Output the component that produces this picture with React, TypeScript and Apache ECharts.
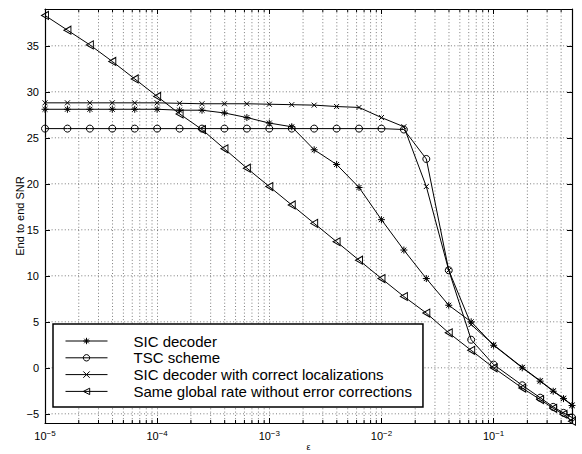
import React, { useEffect, useRef } from 'react';
import * as echarts from 'echarts';

// epsilon values (x)
const eps = [
  1e-5, 1.585e-5, 2.512e-5, 3.981e-5, 6.31e-5,
  1e-4, 1.585e-4, 2.512e-4, 3.981e-4, 6.31e-4,
  1e-3, 1.585e-3, 2.512e-3, 3.981e-3, 6.31e-3,
  1e-2, 1.585e-2, 2.512e-2, 3.981e-2, 6.31e-2,
  0.1, 0.18, 0.26, 0.34, 0.42, 0.5,
];

const sicDecoder = [
  28.1, 28.1, 28.1, 28.1, 28.1, 28.1, 28.0, 28.0, 27.7, 27.2,
  26.6, 26.2, 23.7, 22.1, 19.6, 16.1, 12.8, 9.7, 6.8, 5.0,
  2.45, 0.0, -1.45, -2.55, -3.35, -4.1,
];
const tscScheme = [
  26.0, 26.0, 26.0, 26.0, 26.0, 26.0, 26.0, 26.0, 26.0, 26.0,
  26.0, 26.0, 26.0, 26.0, 26.0, 26.0, 25.9, 22.7, 10.6, 3.05,
  0.35, -1.9, -3.25, -4.25, -4.9, -5.4,
];
const sicCorrectLoc = [
  28.8, 28.8, 28.8, 28.8, 28.8, 28.8, 28.75, 28.7, 28.7, 28.7,
  28.65, 28.6, 28.55, 28.4, 28.3, 27.2, 26.2, 19.7, 10.6, 4.7,
  2.5, 0.05, -1.4, -2.5, -3.3, -4.05,
];
const sameRate = [
  38.3, 36.7, 35.1, 33.3, 31.4, 29.5, 27.6, 25.9, 23.8, 21.7,
  19.7, 17.7, 15.7, 13.7, 11.7, 9.7, 7.75, 5.95, 3.8, 1.9,
  0.0, -2.2, -3.45, -4.4, -5.05, -5.8,
];

const seriesNames = [
  'SIC decoder',
  'TSC scheme',
  'SIC decoder with correct localizations',
  'Same global rate without error corrections',
];

const yTicks = [-5, 0, 5, 10, 15, 20, 25, 30, 35];
const decadeStarts = [1e-5, 1e-4, 1e-3, 1e-2, 1e-1];
const minorMultipliers = [2, 3, 4, 5, 6, 7, 8, 9];

const X_MIN = 1e-5;
const X_MAX = 0.5;
const Y_MIN = -6;
const Y_MAX = 39;

const FONT = '"Liberation Sans", Arial, Helvetica, sans-serif';

const STAR = 'path://M0,-1L0,1M-1,0L1,0M-0.71,-0.71L0.71,0.71M-0.71,0.71L0.71,-0.71';
const CROSS = 'path://M-1,-1L1,1M-1,1L1,-1';
const TRI_LEFT = 'path://M0,5L8,0L8,10Z';

export default function App() {
  const ref = useRef<HTMLDivElement>(null);

  useEffect(() => {
    if (!ref.current) return;
    const chart = echarts.init(ref.current, undefined, { renderer: 'svg' });

    const lx = (v: number) => Math.log10(v);
    const xMin = lx(X_MIN);
    const xMax = lx(X_MAX);

    const minorX: number[] = [];
    decadeStarts.forEach((d) => {
      minorMultipliers.forEach((m) => {
        const v = d * m;
        if (v < X_MAX * 0.999) minorX.push(v);
      });
    });

    const gridStyle = { stroke: '#444', lineWidth: 0.7, lineDash: [1, 2.3] };

    const mkLine = (name: string, vals: number[], symbol: string, size: any) => ({
      name,
      type: 'line',
      data: eps.map((e, i) => [lx(e), vals[i]]),
      symbol,
      symbolSize: size,
      showSymbol: true,
      color: '#000',
      lineStyle: { color: '#000', width: 1 },
      itemStyle: { color: 'transparent', borderColor: '#000', borderWidth: 1 },
      z: 3,
      silent: true,
    });

    const axisLineStyle = { show: true, onZero: false, lineStyle: { color: '#000', width: 1.2 } };

    const option: any = {
      animation: false,
      backgroundColor: '#fff',
      textStyle: { fontFamily: FONT },
      grid: { left: 45, top: 9, width: 527, height: 414, containLabel: false, outerBoundsMode: 'none' },
      legend: {
        data: seriesNames,
        orient: 'vertical',
        left: 53,
        top: 324,
        padding: [8.6, 11, 7.2, 12],
        itemWidth: 42,
        itemHeight: 8,
        itemGap: 0,
        backgroundColor: '#fff',
        borderColor: '#000',
        borderWidth: 1.5,
        borderRadius: 0,
        selectedMode: false,
        itemStyle: { color: 'transparent', borderColor: '#000', borderWidth: 1 },
        lineStyle: { color: '#000', width: 1 },
        textStyle: {
          fontFamily: FONT,
          fontSize: 15,
          color: '#000',
          lineHeight: 16.8,
          padding: [0, 0, 0, 21],
        },
        z: 10,
      },
      xAxis: [
        {
          type: 'value',
          min: xMin,
          max: xMax,
          interval: 1,
          position: 'bottom',
          name: 'ε',
          nameLocation: 'middle',
          nameGap: 19,
          nameMoveOverlap: false,
          nameTextStyle: { fontFamily: FONT, fontSize: 9, color: '#000', verticalAlign: 'top' },
          axisLine: axisLineStyle,
          axisTick: { show: true, inside: true, length: 5, lineStyle: { color: '#000', width: 1 } },
          axisLabel: {
            show: true,
            margin: 6,
            showMaxLabel: false,
            color: '#000',
            formatter: (v: number) => {
              if (v > -0.5) return '';
              return `{b|10}{s|−${Math.round(-v)}}`;
            },
            rich: {
              b: { fontFamily: FONT, fontSize: 11, color: '#000', lineHeight: 12, verticalAlign: 'bottom' },
              s: { fontFamily: FONT, fontSize: 8, color: '#000', lineHeight: 10, padding: [0, 0, 6, 0], verticalAlign: 'top' },
            },
          },
          splitLine: { show: true, lineStyle: { color: '#444', width: 0.7, type: [1, 2.3] } },
        },
        {
          type: 'value',
          min: xMin,
          max: xMax,
          interval: 1,
          position: 'top',
          axisLine: axisLineStyle,
          axisTick: { show: true, inside: true, length: 5, lineStyle: { color: '#000', width: 1 } },
          axisLabel: { show: false },
          splitLine: { show: false },
        },
      ],
      yAxis: [
        {
          type: 'value',
          min: Y_MIN,
          max: Y_MAX,
          position: 'left',
          name: 'End to end SNR',
          nameLocation: 'middle',
          nameGap: 20,
          nameMoveOverlap: false,
          nameTextStyle: { fontFamily: FONT, fontSize: 11, color: '#000' },
          axisLine: axisLineStyle,
          axisTick: { show: true, inside: true, length: 5, customValues: yTicks, lineStyle: { color: '#000', width: 1 } },
          axisLabel: {
            show: true,
            margin: 6,
            fontFamily: FONT,
            fontSize: 11,
            color: '#000',
            customValues: yTicks,
            formatter: (v: number) => (v < 0 ? '−' + -v : String(v)),
          },
          splitLine: { show: false },
        },
        {
          type: 'value',
          min: Y_MIN,
          max: Y_MAX,
          position: 'right',
          axisLine: axisLineStyle,
          axisTick: { show: true, inside: true, length: 5, customValues: yTicks, lineStyle: { color: '#000', width: 1 } },
          axisLabel: { show: false, customValues: yTicks },
          splitLine: { show: false },
        },
      ],
      series: [
        {
          type: 'custom',
          name: 'minorX',
          silent: true,
          z: 1,
          data: minorX.map((v) => [lx(v), 0]),
          renderItem: (params: any, api: any) => {
            const cs = params.coordSys;
            const x = api.coord([api.value(0), 0])[0];
            const top = cs.y;
            const bottom = cs.y + cs.height;
            return {
              type: 'group',
              children: [
                { type: 'line', shape: { x1: x, y1: top, x2: x, y2: bottom }, style: gridStyle },
                { type: 'line', shape: { x1: x, y1: bottom, x2: x, y2: bottom - 3 }, style: { stroke: '#000', lineWidth: 1 } },
                { type: 'line', shape: { x1: x, y1: top, x2: x, y2: top + 3 }, style: { stroke: '#000', lineWidth: 1 } },
              ],
            };
          },
        },
        {
          type: 'custom',
          name: 'gridY',
          silent: true,
          z: 1,
          data: yTicks.map((v) => [xMin, v]),
          renderItem: (params: any, api: any) => {
            const cs = params.coordSys;
            const y = api.coord([xMin, api.value(1)])[1];
            return {
              type: 'line',
              shape: { x1: cs.x, y1: y, x2: cs.x + cs.width, y2: y },
              style: gridStyle,
            };
          },
        },
        mkLine(seriesNames[0], sicDecoder, STAR, 7),
        mkLine(seriesNames[1], tscScheme, 'circle', 7),
        mkLine(seriesNames[2], sicCorrectLoc, CROSS, 5),
        mkLine(seriesNames[3], sameRate, TRI_LEFT, [7, 8]),
      ],
    };

    chart.setOption(option);
    return () => chart.dispose();
  }, []);

  return (
    <div
      ref={ref}
      style={{ position: 'absolute', left: 0, top: 0, width: 582, height: 454, background: '#fff' }}
    />
  );
}
